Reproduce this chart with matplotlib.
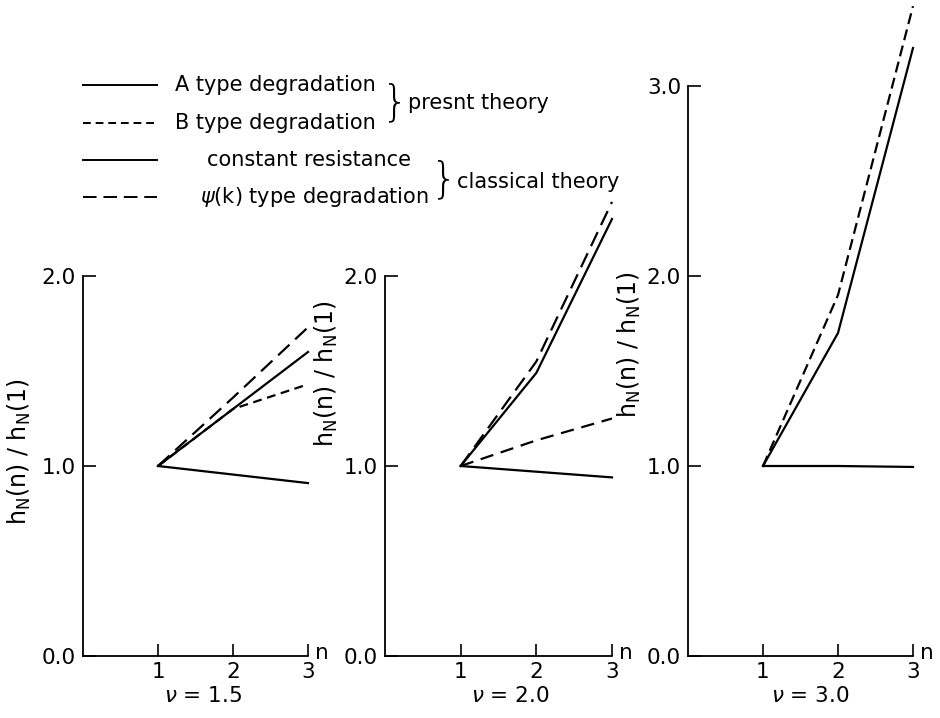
import matplotlib.pyplot as plt
from matplotlib.lines import Line2D

# values
n = [1, 2, 3]

a_type_15 = [1.0, 1.30, 1.60]
b_type_15 = [1.0, 1.30, 1.43]
const_15 = [1.0, 0.955, 0.91]
psi_15 = [1.0, 1.36, 1.73]

a_type_20 = [1.0, 1.49, 2.30]
b_type_20 = [1.0, 1.135, 1.25]
const_20 = [1.0, 0.97, 0.94]
psi_20 = [1.0, 1.55, 2.39]

a_type_30 = [1.0, 1.70, 3.20]
const_30 = [1.0, 1.0, 0.995]
psi_30 = [1.0, 1.90, 3.42]

nu_labels = ['1.5', '2.0', '3.0']
y_tops = [2.0, 2.0, 3.0]

W, H = 940, 718
fig = plt.figure(figsize=(9.4, 7.18), dpi=100)

def px_box(x0, y0, x1, y1):
    # pixel box (left, bottom-y, right, top-y) -> figure fraction rect
    return [x0 / W, (H - y0) / H, (x1 - x0) / W, (y0 - y1) / H]

boxes = [px_box(83, 656, 308, 276),
         px_box(385, 656, 612, 276),
         px_box(688, 656, 913, 86)]
box_h = [380, 380, 570]

# label placement per panel (axes fractions)
ylab_pos = [(-0.222, 0.537), (-0.198, 0.742), (-0.20, 0.546)]
xlab_pos = [0.533, 0.551, 0.542]

panels = [
    [(a_type_15, '-'), (b_type_15, (0, (4, 2.5))), (const_15, '-'), (psi_15, (0, (7, 3.5)))],
    [(a_type_20, '-'), (b_type_20, (0, (6, 3.5))), (const_20, '-'), (psi_20, (0, (7, 3.5)))],
    [(a_type_30, '-'), (const_30, '-'), (psi_30, (0, (5, 2.5)))],
]

fs = 15.5
for i, (box, series, nu, ytop) in enumerate(zip(boxes, panels, nu_labels, y_tops)):
    ax = fig.add_axes(box)
    for vals, ls in series:
        ax.plot(n, vals, color='black', lw=1.6, linestyle=ls, clip_on=False)
    ax.set_xlim(0, 3)
    ax.set_ylim(0, ytop)
    ax.spines['top'].set_visible(False)
    ax.spines['right'].set_visible(False)
    for s in ['left', 'bottom']:
        ax.spines[s].set_linewidth(1.3)
    ax.set_xticks([1, 2, 3])
    ax.set_xticklabels(['1', '2', '3'], fontsize=fs)
    yt = [0.0, 1.0, 2.0] if ytop == 2.0 else [0.0, 1.0, 2.0, 3.0]
    ax.set_yticks(yt)
    ax.set_yticklabels(['%.1f' % v for v in yt], fontsize=fs)
    ax.tick_params(direction='in', length=9, width=1.2)
    ax.tick_params(axis='x', pad=4)
    ax.tick_params(axis='y', pad=5)
    ax.set_ylabel(r'$\mathrm{h_N(n)\ /\ h_N(1)}$', fontsize=17)
    ax.yaxis.set_label_coords(*ylab_pos[i])
    ax.text(1.03, -3 / box_h[i], 'n', transform=ax.transAxes, fontsize=fs,
            ha='left', va='baseline')
    ax.set_xlabel(r'$\nu$ = ' + nu, fontsize=fs)
    ax.xaxis.set_label_coords(xlab_pos[i], -30 / box_h[i])

# legend drawn by hand (braces group the entries)
leg = fig.add_axes([0, 0, 1, 1])
leg.set_xlim(0, W)
leg.set_ylim(H, 0)
leg.axis('off')

lfs = 15
legend_rows = [
    ('-', 'A type degradation', 175, 85),
    ((0, (4, 2.5)), 'B type degradation', 175, 123),
    ('-', 'constant resistance', 207, 160),
    ((0, (7, 3.5)), r'$\psi$(k) type degradation', 200, 197),
]
for ls, label, tx, ty in legend_rows:
    leg.add_line(Line2D([83, 157], [ty, ty], color='black', lw=1.4, linestyle=ls))
    leg.text(tx, ty, label, fontsize=lfs, ha='left', va='center')

leg.text(395, 103, '}', fontsize=30, ha='center', va='center', fontweight='light')
leg.text(408, 103, 'presnt theory', fontsize=lfs, ha='left', va='center')
leg.text(444, 180, '}', fontsize=30, ha='center', va='center', fontweight='light')
leg.text(457, 182, 'classical theory', fontsize=lfs, ha='left', va='center')

fig.savefig('out.png', dpi=100)
